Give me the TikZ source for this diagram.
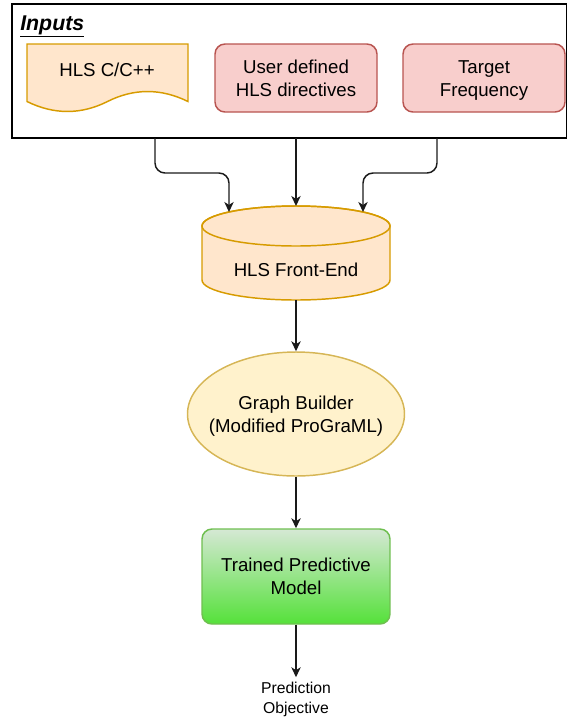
\documentclass[tikz,border=0pt]{standalone}
\usepackage{fontspec}
\setmainfont{Liberation Sans}
\usetikzlibrary{arrows.meta,shapes.geometric,calc}

\definecolor{orfill}{HTML}{FFE6CC}
\definecolor{orline}{HTML}{D79B00}
\definecolor{redfill}{HTML}{F8CECC}
\definecolor{redline}{HTML}{B85450}
\definecolor{yelfill}{HTML}{FFF2CC}
\definecolor{yelline}{HTML}{D6B656}
\definecolor{grtop}{HTML}{D5E8D4}
\definecolor{grbot}{HTML}{55E13A}
\definecolor{grline}{HTML}{6FBF50}
\definecolor{ink}{HTML}{1A1A1A}

% one text line with fixed height and depth
\newcommand{\txtline}[1]{\strut #1}

\tikzset{
  lbl/.style={font=\fontsize{14}{17.5}\selectfont, align=center, text=black, inner sep=0pt},
  lowered/.style={lbl, yshift=-1.6pt},
  smalllbl/.style={font=\fontsize{11.8}{15}\selectfont, align=center, text=black, inner sep=1.5pt},
  shapeline/.style={line width=1.1pt},
  redbox/.style={lbl, shapeline, draw=redline, fill=redfill, rounded corners=7.5pt,
                 minimum width=121.5pt, minimum height=51pt},
  link/.style={draw=ink, line width=1.1pt, rounded corners=7.5pt,
               -{Stealth[length=7.5pt,width=7pt,inset=2.2pt]}}
}

\begin{document}
\begin{tikzpicture}[x=0.75pt,y=-0.75pt]
\useasboundingbox (0,0) rectangle (567,719);

% frame holding the inputs
\node[draw=black, line width=1.1pt, minimum width=416.25pt, minimum height=100.5pt,
      inner sep=0pt, outer sep=0pt] (inputs) at (289.5,71) {};
\node[anchor=west, inner sep=0pt, font=\fontsize{16}{18}\selectfont\bfseries\itshape]
  (title) at (20,26.5) {\underline{Inputs}};

% source document shape with a wavy lower edge
\draw[shapeline, draw=orline, fill=orfill]
  (27,44) -- (188,44) -- (188,101.5)
  .. controls (161,88.2) and (134,88.2) .. (107.5,101.5)
  .. controls (81,114.8) and (54,114.8) .. (27,101.5) -- cycle;
\node[lowered] (hls) at (107,70) {\txtline{HLS C/C++}};

\node[redbox] (dir) at (296,78) {};
\node[lowered] (dirtext) at (dir.center) {\txtline{User defined}\\\txtline{HLS directives}};
\node[redbox] (freq) at (484,78) {};
\node[lowered] (freqtext) at (freq.center) {\txtline{Target}\\\txtline{Frequency}};

% front-end cylinder
\node[minimum width=141pt, minimum height=70.5pt, inner sep=0pt, outer sep=0pt] (fe) at (296,253) {};
\draw[shapeline, draw=orline, fill=orfill]
  (202,226) -- (202,280) arc[start angle=180, end angle=0, x radius=94, y radius=20]
  -- (390,226) arc[start angle=0, end angle=-180, x radius=94, y radius=20] -- cycle;
\draw[shapeline, draw=orline] (296,226) ellipse [x radius=94, y radius=20];
\node[lowered] (fetext) at (296,270) {\txtline{HLS Front-End}};

% graph builder
\node[ellipse, shapeline, draw=yelline, fill=yelfill, minimum width=162.75pt,
      minimum height=93pt, inner sep=0pt] (gb) at (296,414) {};
\node[lowered] (gbtext) at (gb.center) {\txtline{Graph Builder}\\\txtline{(Modified ProGraML)}};

% predictive model
\node[shapeline, draw=grline, top color=grtop, bottom color=grbot, rounded corners=7.5pt,
      minimum width=141pt, minimum height=71.25pt, inner sep=0pt] (tm) at (296,576.5) {};
\node[lowered] (tmtext) at (tm.center) {\txtline{Trained Predictive}\\\txtline{Model}};

\node[smalllbl] (obj) at (296,699.5) {\txtline{Prediction}\\\txtline{Objective}};

% connectors
\coordinate (o1) at (155,138);
\coordinate (o2) at (296,138);
\coordinate (o3) at (437,138);
\coordinate (t1) at (229,212);
\coordinate (t2) at (296,206);
\coordinate (t3) at (363,212);
\draw[link] (o1) -- (155,173) -- (229,173) -- (t1);
\draw[link] (o2) -- (t2);
\draw[link] (o3) -- (437,173) -- (363,173) -- (t3);
\draw[link] (fe.south) -- (gb.north);
\draw[link] (gb.south) -- (tm.north);
\draw[link] (tm.south) -- (obj.north);
\end{tikzpicture}
\end{document}
